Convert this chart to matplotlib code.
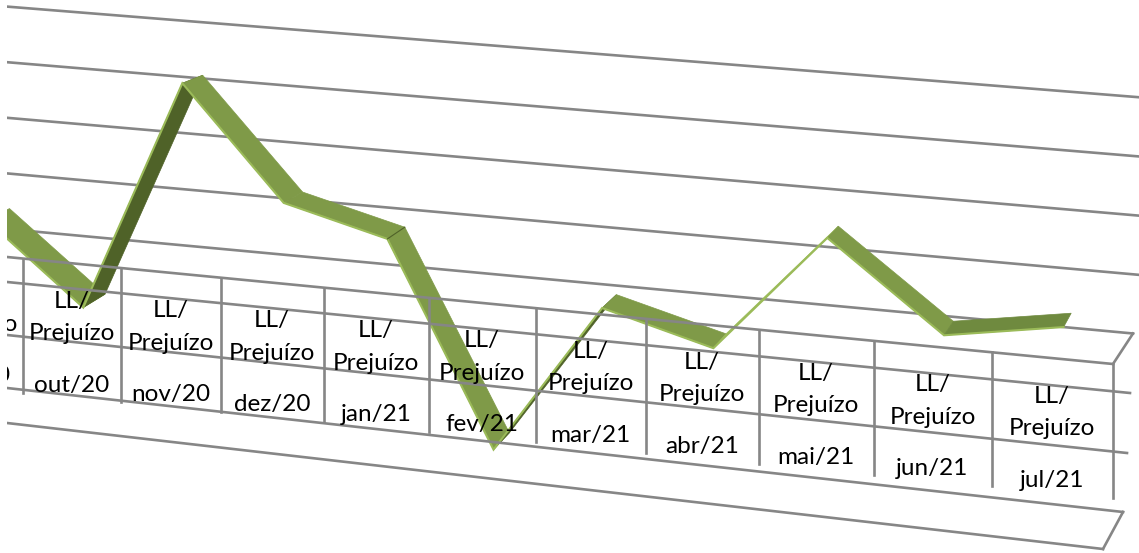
import numpy as np
import matplotlib
matplotlib.use("Agg")
import matplotlib.pyplot as plt
from matplotlib.patches import Polygon

# valores, em passos de linha de grade
months = ["set/20", "out/20", "nov/20", "dez/20", "jan/21", "fev/21",
          "mar/21", "abr/21", "mai/21", "jun/21", "jul/21"]
series_name = "LL/\nPrejuízo"
values = [0.13, -1.28, 2.885, 0.917, 0.447, -3.07, -0.414, -0.927, 1.155, -0.33, 0.0]
grid_levels = [0, 1, 2, 3, 4]

GRID = "#868686"
TOP = "#7f9a48"
MID = "#6f8a3f"
DARK = "#4f6228"
EDGE = "#9bbb59"
LW = 1.9

W, H = 1139, 553
LEFT = 7
VP = np.array([1586.0, -250.0])  # ponto de fuga da profundidade
DEPTH = np.array([0.0145, 0.024])


def cat_x(u):
    # perspectiva ao longo do eixo de categorias (u=0 é a primeira divisão visível)
    return (23 + 96.66 * u) / (1 - 0.01109 * u)


def level_y(level, x):
    base = 229 + 0.0928 * (x - LEFT)
    step = 55.6 + 0.00318 * (x - LEFT)
    return base - level * step


def slanted(y0, y1, x1):
    return lambda x: y0 + (y1 - y0) * (x - LEFT) / (x1 - LEFT)


fig = plt.figure(figsize=(W / 100, H / 100), dpi=100)
ax = fig.add_axes([LEFT / W, 0, 1 - LEFT / W, 1])
ax.set_xlim(LEFT, W)
ax.set_ylim(H, 0)
ax.axis("off")

# linhas de grade na parede do fundo
for lv in grid_levels:
    x_end = 1133 if lv == 0 else W
    ax.plot([LEFT, x_end], [level_y(lv, LEFT), level_y(lv, x_end)], color=GRID, lw=LW, zorder=1)

# fita da série
xs = np.array([cat_x(i - 0.5) + 11.5 for i in range(len(values))])
ys = np.array([level_y(v, x) for v, x in zip(values, xs)])
front = np.column_stack([xs, ys])
back = front + DEPTH * (VP - front)

for i in range(len(values) - 1):
    rise = values[i + 1] - values[i]
    d = front[i + 1] - front[i]
    b = back[i] - front[i]
    under = d[0] * b[1] - d[1] * b[0] > 0  # vê-se a face de baixo
    if rise > 1:
        face = DARK if under else EDGE
    else:
        face = MID if rise > 0 else TOP
    quad = [front[i], front[i + 1], back[i + 1], back[i]]
    ax.add_patch(Polygon(quad, closed=True, facecolor=face, edgecolor=face, lw=0.5, zorder=2))
ax.plot(xs, ys, color=EDGE, lw=1.5, solid_joinstyle="miter", zorder=2.5)
# vinco escuro em jan/21
ax.plot([front[4][0], back[4][0]], [front[4][1], back[4][1]], color=DARK, lw=0.8, zorder=2.6)

# tabela de dados por cima
table_top = slanted(257, 364, 1113)
row1 = slanted(282, 393, 1130)
row2 = slanted(335, 453, 1127)
row3 = slanted(388, 512, 1123)
floor = slanted(423, 549, 1103)
for fn, x_end in [(table_top, 1113), (row1, 1130), (row2, 1127), (row3, 1123), (floor, 1103)]:
    ax.plot([LEFT, x_end], [fn(LEFT), fn(x_end)], color=GRID, lw=LW, zorder=3)
ax.plot([1113, 1133], [table_top(1113), level_y(0, 1133)], color=GRID, lw=LW, zorder=3)
ax.plot([1123, 1103], [row3(1123), floor(1103)], color=GRID, lw=LW, zorder=3)

for u in range(11):
    x = cat_x(u)
    ax.plot([x, x], [table_top(x), table_top(x) + 134], color=GRID, lw=LW, zorder=3)

for i, m in enumerate(months):
    x = cat_x(i - 0.5)
    top = table_top(x)
    ll, prej = series_name.split("\n")
    for txt, off in [(ll, 38), (prej, 70.5), (m, 122)]:
        ax.text(x, top + off, txt, ha="center", va="center", fontsize=17.5, family="Lato",
                color="black", clip_on=True, zorder=4)

fig.savefig("out.png", dpi=100, facecolor="white")
